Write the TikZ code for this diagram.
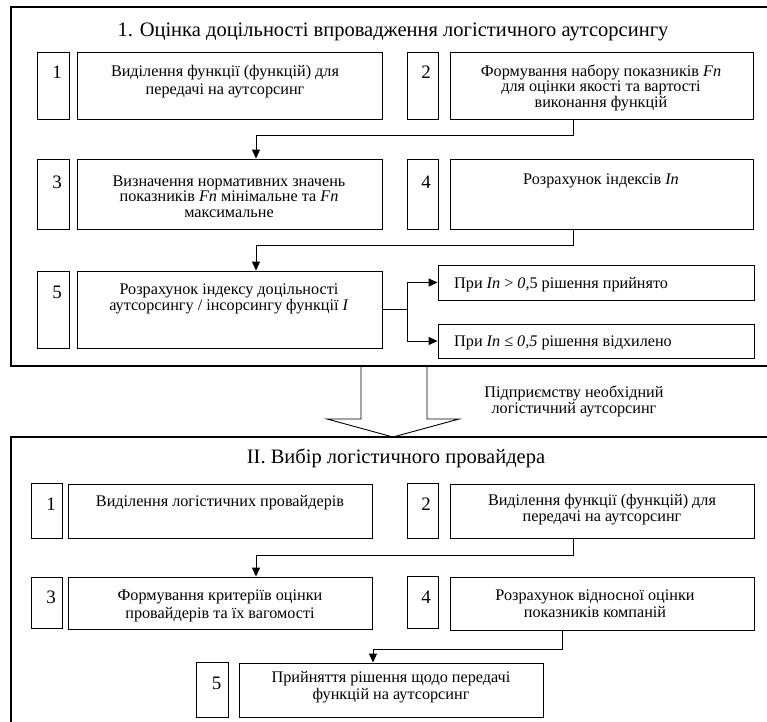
\documentclass[tikz,border=0pt]{standalone}
\usepackage{fontspec}
\setmainfont{Liberation Serif}
\usetikzlibrary{arrows.meta,calc}
\tikzset{
  box/.style={draw, line width=0.9pt, inner sep=0pt, fill=white},
  lbl/.style={inner sep=0pt, align=center, anchor=base,
    font={\fontsize{16.2}{#1}\selectfont}},
  lbl/.default=15,
  lleft/.style={inner sep=0pt, anchor=base west, font=\fontsize{16.2}{16}\selectfont},
  num/.style={inner sep=0pt, anchor=base, font=\fontsize{19}{19}\selectfont},
  ttl/.style={inner sep=0pt, anchor=base, font=\fontsize{20.5}{20}\selectfont},
  arr/.style={line width=0.9pt, -{Triangle[length=9pt,width=8pt]}},
  ln/.style={line width=0.9pt},
  frame/.style={draw, line width=1.3pt, inner sep=0pt},
}
\lineskiplimit=-20pt
\newcommand\mkbox[6][box]{\node[#1, minimum width={#4-#2}, minimum height={#5-#3}] (#6) at ({(#2+#4)/2},{(#3+#5)/2}) {};}
\begin{document}
\begin{tikzpicture}[x=1pt,y=-1pt]
\path[use as bounding box, clip] (0,0) rectangle (767,721);
% frames
\mkbox[frame]{11}{7}{800}{366}{F1}
\mkbox[frame]{11}{437}{800}{760}{F2}
% titles
\node[ttl] (T1) at (393,36) {1. Оцінка доцільності впровадження логістичного аутсорсингу};
\node[ttl] (T2) at (396,463) {II. Вибір логістичного провайдера};
% section I
\mkbox{37}{52}{69}{119}{n1}
\mkbox{77}{52}{382}{119}{b1}
\mkbox{407}{52}{438}{119}{n2}
\mkbox{450}{52}{753}{119}{b2}
\mkbox{37}{159}{69}{229}{n3}
\mkbox{77}{159}{382}{229}{b3}
\mkbox{407}{159}{438}{229}{n4}
\mkbox{450}{159}{753}{229}{b4}
\mkbox{37}{271}{69}{348}{n5}
\mkbox{77}{271}{382}{348}{b5}
\mkbox{438}{265}{754}{300}{c1}
\mkbox{438}{324}{754}{358}{c2}
\node[num] (d1) at (57,78) {1};
\node[num] (d2) at (426,78) {2};
\node[num] (d3) at (57,188) {3};
\node[num] (d4) at (426,188) {4};
\node[num] (d5) at (57,298) {5};
\node[lbl=18] (t1) at (225,94) {Виділення функції (функцій) для\\передачі на аутсорсинг};
\node[lbl=15.5] (t2) at (601,107) {Формування набору показників \textit{Fn}\\для оцінки якості та вартості\\виконання функцій};
\node[lbl=15.5] (t3) at (229,217) {Визначення нормативних значень\\показників \textit{Fn} мінімальне та \textit{Fn}\\максимальне};
\node[lbl] (t4) at (601,184) {Розрахунок індексів \textit{In}};
\node[lbl=16] (t5) at (229,310) {Розрахунок індексу доцільності\\аутсорсингу / інсорсингу функції \textit{I}};
\node[lleft] (tc1) at (454,288) {При \textit{In} > \textit{0,}5 рішення прийнято};
\node[lleft] (tc2) at (454,346) {При \textit{In ≤ 0,5} рішення відхилено};
\draw[arr] ($(b2.south)+(-28.5,0)$) -- ++(0,16) -| ($(b3.north)+(26.5,0)$);
\draw[arr] ($(b4.south)+(-28.5,0)$) -- ++(0,16) -| ($(b5.north)+(26.5,0)$);
\coordinate (br) at (407,309.5);
\draw[ln] (b5.east) -- (br);
\draw[arr] (br) |- (c1.west);
\draw[arr] (br) |- (c2.west);
% big arrow
\draw[ln] (361,366) -- (361,419) -- (327,419) -- (393,437) -- (459,419) -- (427,419) -- (427,366);
\node[lbl=16] (mid) at (574,413) {Підприємству необхідний\\логістичний аутсорсинг};
% section II
\mkbox{31}{483}{62}{538}{m1}
\mkbox{68}{484}{372}{538}{e1}
\mkbox{407}{483}{438}{538}{m2}
\mkbox{450}{484}{754}{538}{e2}
\mkbox{31}{577}{62}{628}{m3}
\mkbox{68}{577}{372}{629}{e3}
\mkbox{407}{576}{438}{628}{m4}
\mkbox{450}{577}{754}{630}{e4}
\mkbox{196}{662}{228}{717}{m5}
\mkbox{239}{663}{543}{717}{e5}
\node[num] (g1) at (51,510) {1};
\node[num] (g2) at (426,510) {2};
\node[num] (g3) at (51,603) {3};
\node[num] (g4) at (426,603) {4};
\node[num] (g5) at (216.5,689) {5};
\node[lbl] (s1) at (220,506) {Виділення логістичних провайдерів};
\node[lbl=16] (s2) at (602,521) {Виділення функції (функцій) для\\передачі на аутсорсинг};
\node[lbl=18] (s3) at (220,618) {Формування критеріїв оцінки\\провайдерів та їх вагомості};
\node[lbl=17] (s4) at (595,617) {Розрахунок відносної оцінки\\показників компаній};
\node[lbl=16.5] (s5) at (391,699) {Прийняття рішення щодо передачі\\функцій на аутсорсинг};
\draw[arr] ($(e2.south)+(-29,0)$) -- ++(0,17) -| ($(e3.north)+(36,0)$);
\draw[arr] ($(e4.south)+(-40,0)$) -- ++(0,19) -| ($(e5.north)+(-18,0)$);
\end{tikzpicture}
\end{document}
